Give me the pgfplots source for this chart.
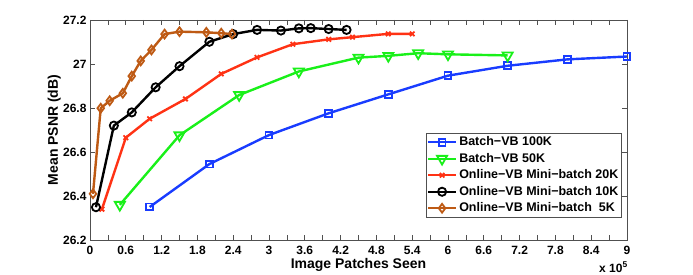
\documentclass[border=0pt]{standalone}
\usepackage{pgfplots}
\pgfplotsset{compat=1.18}
\usepackage{fontspec}
\setmainfont{Liberation Sans}
\definecolor{cBlue}{RGB}{25,60,255}
\definecolor{cGreen}{RGB}{25,240,25}
\definecolor{cRed}{RGB}{255,50,20}
\definecolor{cBrown}{RGB}{190,90,20}
\definecolor{cAxis}{RGB}{80,80,80}
\begin{document}
\begin{tikzpicture}
\begin{axis}[
  at={(90bp,35bp)}, anchor=south west, scale only axis,
  width=537bp, height=220bp,
  xmin=0, xmax=9, ymin=26.2, ymax=27.2,
  axis line style={cAxis, line width=0.9bp},
  every tick/.style={cAxis, line width=0.7bp},
  tick align=inside, major tick length=5bp, minor tick length=5bp,
  xtick={0,0.6,1.2,1.8,2.4,3,3.6,4.2,4.8,5.4,6,6.6,7.2,7.8,8.4,9},
  xticklabels={0,0.6,1.2,1.8,2.4,3,3.6,4.2,4.8,5.4,6,6.6,7.2,7.8,8.4,9},
  minor xtick={0.3,0.9,1.5,2.1,2.7,3.3,3.9,4.5,5.1,5.7,6.3,6.9,7.5,8.1,8.7},
  ytick={26.2,26.4,26.6,26.8,27,27.2},
  yticklabels={26.2,26.4,26.6,26.8,27,27.2},
  ticklabel style={font=\fontsize{12bp}{14bp}\selectfont\bfseries},
  xticklabel style={yshift=-2.5bp},
  label style={font=\fontsize{14bp}{16bp}\selectfont\bfseries},
  xlabel={Image Patches Seen},
  xlabel style={at={(axis description cs:0.5,-0.1286)}, anchor=base},
  ylabel={Mean PSNR (dB)},
  ylabel style={at={(axis description cs:-0.0596,0.5)}, anchor=base},
  legend style={at={(axis description cs:0.990,0.4877)}, anchor=north east,
    draw=cAxis, line width=0.6bp, fill=white, inner sep=1bp,
    font=\fontsize{12.5bp}{14bp}\selectfont\bfseries,
    nodes={inner xsep=2bp, inner ysep=3bp, text height=8.5bp, text depth=2bp},
    cells={anchor=west}},
  legend image code/.code={\draw[mark repeat=2,mark phase=2] plot coordinates {(0bp,0bp) (14bp,0bp) (28bp,0bp)};},
  every axis plot/.append style={line width=2.4bp},
]
\addplot[cBlue, mark=square, mark size=3.4bp, mark options={solid, line width=1.8bp}] coordinates {
(1,26.35) (2,26.545) (3,26.677) (4,26.776) (5,26.862) (6,26.947) (7,26.992) (8,27.021) (9,27.034)};
\addlegendentry{Batch−VB 100K}
\addplot[cGreen, mark=triangle, mark size=5.8bp, mark options={solid, rotate=180, line width=1.8bp}] coordinates {
(0.5,26.36) (1.5,26.676) (2.5,26.859) (3.5,26.966) (4.5,27.029) (5,27.037) (5.5,27.049) (6,27.044) (7,27.039)};
\addlegendentry{Batch−VB 50K}
\addplot[cRed, mark=x, mark size=3.2bp, mark options={solid, line width=1.8bp}] coordinates {
(0.2,26.34) (0.6,26.665) (1.0,26.751) (1.6,26.841) (2.2,26.955) (2.8,27.03) (3.4,27.09) (4.0,27.112) (4.4,27.122) (5.0,27.137) (5.4,27.137)};
\addlegendentry{Online−VB Mini−batch 20K}
\addplot[black, mark=o, mark size=4.1bp, mark options={solid, line width=1.8bp}] coordinates {
(0.1,26.349) (0.4,26.72) (0.7,26.78) (1.1,26.894) (1.5,26.99) (2.0,27.101) (2.4,27.136) (2.8,27.155) (3.2,27.152) (3.5,27.162) (3.7,27.163) (4.0,27.159) (4.3,27.155)};
\addlegendentry{Online−VB Mini−batch 10K}
\addplot[cBrown, mark=diamond, mark size=4.4bp, mark options={solid, line width=1.8bp}] coordinates {
(0.05,26.41) (0.18,26.799) (0.33,26.833) (0.55,26.867) (0.7,26.945) (0.85,27.014) (1.03,27.064) (1.25,27.136) (1.5,27.147) (1.95,27.144) (2.2,27.14) (2.38,27.136)};
\addlegendentry{Online−VB Mini−batch\ \ 5K}
\end{axis}
\node[anchor=base west, inner sep=0pt, font=\fontsize{12bp}{14bp}\selectfont\bfseries] at (599bp,2.7bp) {x 10\textsuperscript{5}};
\pgfresetboundingbox
\useasboundingbox (0bp,0bp) rectangle (693bp,275bp);
\end{tikzpicture}
\end{document}
